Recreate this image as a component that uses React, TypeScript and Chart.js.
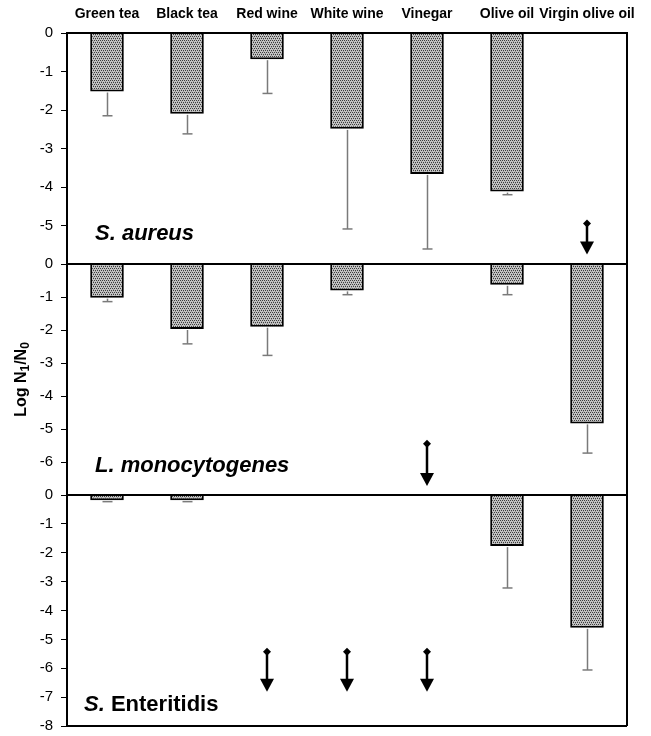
import React, { useEffect, useRef } from "react";
import { Chart, registerables } from "chart.js";

Chart.register(...registerables);

// ---------- data ----------
const categories = ["Green tea", "Black tea", "Red wine", "White wine", "Vinegar", "Olive oil", "Virgin olive oil"];

const aureusMeans = [-1.52, -2.1, -0.68, -2.49, -3.66, -4.12, null];
const aureusSD = [0.63, 0.52, 0.89, 2.6, 1.95, 0.08, null];
const aureusArrowStart = [null, null, null, null, null, null, -4.95];
const aureusArrowEnd = [null, null, null, null, null, null, -5.75];

const monoMeans = [-1.02, -1.97, -1.9, -0.8, null, -0.63, -4.83];
const monoSD = [0.12, 0.45, 0.87, 0.13, null, 0.3, 0.9];
const monoArrowStart = [null, null, null, null, -5.45, null, null];
const monoArrowEnd = [null, null, null, null, -6.73, null, null];

const enterMeans = [-0.18, -0.18, null, null, null, -1.77, -4.6];
const enterSD = [0.05, 0.05, null, null, null, 1.45, 1.46];
const enterArrowStart = [null, null, -5.43, -5.43, -5.43, null, null];
const enterArrowEnd = [null, null, -6.81, -6.81, -6.81, null, null];

const aureusTicks = ["0", "-1", "-2", "-3", "-4", "-5"];
const monoTicks = ["0", "-1", "-2", "-3", "-4", "-5", "-6"];
const enterTicks = ["0", "-1", "-2", "-3", "-4", "-5", "-6", "-7", "-8"];

const aureusMin = -6;
const monoMin = -7;
const enterMin = -8;

const aureusLabel = ["S. aureus", ""];
const monoLabel = ["L. monocytogenes", ""];
const enterLabel = ["S.", " Enteritidis"];

const yTitleParts = ["Log N", "1", "/N", "0"];

// ---------- panel configuration (built from the data above) ----------
type Panel = {
  axis: string;
  means: (number | null)[];
  sd: (number | null)[];
  arrowStart: (number | null)[];
  arrowEnd: (number | null)[];
  ticks: string[];
  min: number;
  label: string[];
  labelDx: number;
  labelDy: number;
  weight: number;
};

const panels: Panel[] = [
  { axis: "y1", means: aureusMeans, sd: aureusSD, arrowStart: aureusArrowStart, arrowEnd: aureusArrowEnd, ticks: aureusTicks, min: aureusMin, label: aureusLabel, labelDx: 28, labelDy: 24, weight: 3 },
  { axis: "y2", means: monoMeans, sd: monoSD, arrowStart: monoArrowStart, arrowEnd: monoArrowEnd, ticks: monoTicks, min: monoMin, label: monoLabel, labelDx: 28, labelDy: 23, weight: 2 },
  { axis: "y3", means: enterMeans, sd: enterSD, arrowStart: enterArrowStart, arrowEnd: enterArrowEnd, ticks: enterTicks, min: enterMin, label: enterLabel, labelDx: 17, labelDy: 15, weight: 1 },
];

const FONT = "'Liberation Sans', Arial, Helvetica, sans-serif";

function makePattern(): CanvasPattern | string {
  const c = document.createElement("canvas");
  c.width = 4;
  c.height = 4;
  const p = c.getContext("2d");
  if (!p) return "#a0a0a0";
  p.fillStyle = "#c4c4c4";
  p.fillRect(0, 0, 4, 4);
  p.fillStyle = "#3c3c3c";
  const dots = [
    [0, 0],
    [2, 0],
    [1, 2],
    [3, 2],
  ];
  dots.forEach(([xx, yy]) => p.fillRect(xx, yy, 1, 1));
  p.fillStyle = "#9a9a9a";
  const mids = [
    [1, 1],
    [3, 3],
  ];
  mids.forEach(([xx, yy]) => p.fillRect(xx, yy, 1, 1));
  const pat = p.createPattern(c, "repeat");
  return pat || "#a0a0a0";
}

const overlayPlugin = {
  id: "overlay",
  afterDatasetsDraw(chart: any) {
    const { ctx, chartArea: a, scales } = chart;
    const xs = scales.x;
    ctx.save();
    const line = (x1: number, y1: number, x2: number, y2: number) => {
      ctx.beginPath();
      ctx.moveTo(x1, y1);
      ctx.lineTo(x2, y2);
      ctx.stroke();
    };

    panels.forEach((p) => {
      const ys = scales[p.axis];
      // error bars
      ctx.strokeStyle = "#7a7a7a";
      ctx.lineWidth = 1.5;
      p.means.forEach((m, i) => {
        const sd = p.sd[i];
        if (m == null || sd == null) return;
        const px = Math.round(xs.getPixelForValue(i)) + 0.5;
        const y0 = ys.getPixelForValue(m);
        const y1 = ys.getPixelForValue(m - sd);
        line(px, y0 + 1, px, y1);
        line(px - 5, y1, px + 5, y1);
      });
      // arrows
      p.arrowStart.forEach((s, i) => {
        const e = p.arrowEnd[i];
        if (s == null || e == null) return;
        const px = xs.getPixelForValue(i);
        const ys0 = ys.getPixelForValue(s);
        const ye = ys.getPixelForValue(e);
        ctx.fillStyle = "#000";
        ctx.strokeStyle = "#000";
        ctx.lineWidth = 2.5;
        line(px, ys0, px, ye - 12);
        ctx.beginPath();
        ctx.moveTo(px, ys0 - 4);
        ctx.lineTo(px + 4, ys0);
        ctx.lineTo(px, ys0 + 4);
        ctx.lineTo(px - 4, ys0);
        ctx.closePath();
        ctx.fill();
        ctx.beginPath();
        ctx.moveTo(px - 7, ye - 13);
        ctx.lineTo(px + 7, ye - 13);
        ctx.lineTo(px, ye);
        ctx.closePath();
        ctx.fill();
      });
      // panel label
      ctx.fillStyle = "#000";
      ctx.textBaseline = "alphabetic";
      ctx.textAlign = "left";
      const lx = a.left + p.labelDx;
      const ly = ys.bottom - p.labelDy;
      ctx.font = `italic bold 22px ${FONT}`;
      ctx.fillText(p.label[0], lx, ly);
      const w = ctx.measureText(p.label[0]).width;
      if (p.label[1]) {
        ctx.font = `bold 22px ${FONT}`;
        ctx.fillText(p.label[1], lx + w, ly);
      }
    });

    // frame and panel separators
    ctx.strokeStyle = "#000";
    ctx.lineWidth = 2;
    line(a.right, a.top, a.right, a.bottom);
    line(a.left, a.bottom, a.right, a.bottom);
    panels.forEach((p) => {
      const y = scales[p.axis].getPixelForValue(0);
      line(a.left, y, a.right + 1, y);
    });

    // y title
    ctx.save();
    ctx.translate(22, (a.top + a.bottom) / 2);
    ctx.rotate(-Math.PI / 2);
    ctx.textBaseline = "middle";
    ctx.textAlign = "left";
    const big = `bold 16px ${FONT}`;
    const small = `bold 12px ${FONT}`;
    let total = 0;
    yTitleParts.forEach((t, i) => {
      ctx.font = i % 2 === 0 ? big : small;
      total += ctx.measureText(t).width;
    });
    let cx = -total / 2;
    yTitleParts.forEach((t, i) => {
      ctx.font = i % 2 === 0 ? big : small;
      ctx.fillText(t, cx, i % 2 === 0 ? 0 : 4);
      cx += ctx.measureText(t).width;
    });
    ctx.restore();

    ctx.restore();
  },
};

export default function App() {
  const ref = useRef<HTMLCanvasElement | null>(null);

  useEffect(() => {
    if (!ref.current) return;
    const pattern = makePattern();
    Chart.defaults.color = "#000";
    Chart.defaults.font.family = FONT;

    const scales: any = {
      x: {
        type: "category",
        position: "top",
        labels: categories,
        offset: true,
        grid: { display: false, drawTicks: false },
        border: { display: true, color: "#000", width: 2 },
        ticks: {
          font: { size: 14, weight: "bold", family: FONT },
          color: "#000",
          padding: 10,
          maxRotation: 0,
          autoSkip: false,
        },
        afterFit: (s: any) => {
          s.height = 33;
          s.paddingLeft = 0;
          s.paddingRight = 0;
        },
      },
    };

    panels.forEach((p) => {
      scales[p.axis] = {
        type: "linear",
        position: "left",
        stack: "panels",
        stackWeight: 1,
        weight: p.weight,
        min: p.min,
        max: 0,
        grid: { display: true, drawOnChartArea: false, drawTicks: true, tickLength: 6, color: "#000", lineWidth: 1 },
        border: { display: true, color: "#000", width: 2 },
        ticks: {
          stepSize: 1,
          autoSkip: false,
          padding: 8,
          color: "#000",
          font: { size: 15, family: FONT },
          callback: (v: any) => {
            const idx = Math.round(-Number(v));
            return p.ticks[idx] ?? "";
          },
        },
        afterFit: (s: any) => {
          s.width = 67;
          s.paddingTop = 0;
          s.paddingBottom = 0;
        },
      };
    });

    const datasets = panels.map((p) => ({
      type: "bar" as const,
      data: p.means,
      yAxisID: p.axis,
      xAxisID: "x",
      grouped: false,
      backgroundColor: pattern as any,
      borderColor: "#000",
      borderWidth: 2,
      barPercentage: 0.42,
      categoryPercentage: 1,
    }));

    const chart = new Chart(ref.current, {
      type: "bar",
      data: { labels: categories, datasets },
      options: {
        responsive: false,
        animation: false,
        devicePixelRatio: 1,
        layout: { padding: { left: 0, top: 0, right: 24, bottom: 10 } },
        plugins: { legend: { display: false }, tooltip: { enabled: false } },
        scales,
      },
      plugins: [overlayPlugin],
    } as any);

    return () => chart.destroy();
  }, []);

  return (
    <div style={{ position: "absolute", left: 0, top: 0, width: 651, height: 736, background: "#fff" }}>
      <canvas ref={ref} width={651} height={736} style={{ display: "block" }} />
    </div>
  );
}
